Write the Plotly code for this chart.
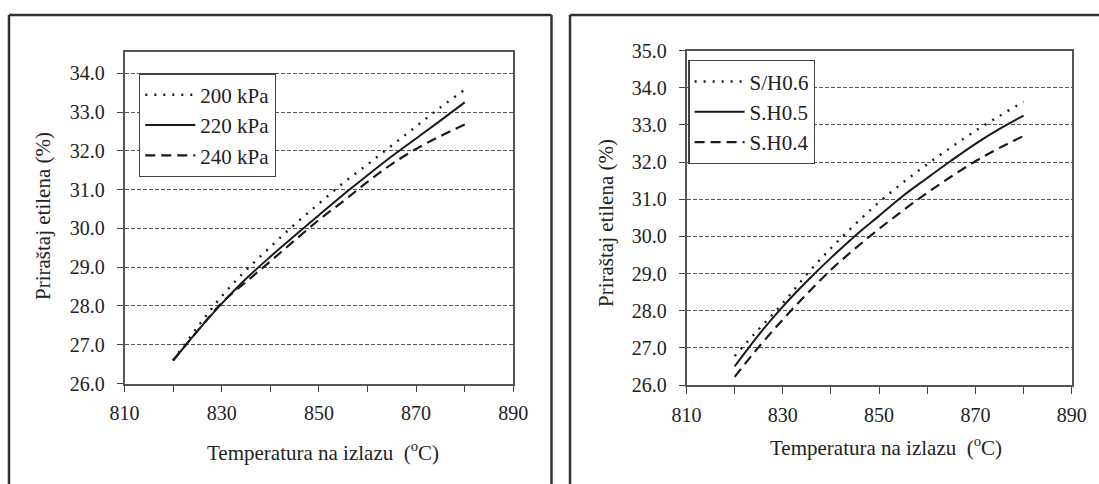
import plotly.graph_objects as go

# ---------------- data ----------------
temp = [820, 825, 830, 835, 840, 845, 850, 855, 860, 865, 870, 875, 880]

# left chart: pressure
kpa200 = [26.60, 27.45, 28.25, 28.92, 29.52, 30.10, 30.64, 31.17, 31.65, 32.14, 32.63, 33.12, 33.58]
kpa220 = [26.59, 27.35, 28.06, 28.70, 29.27, 29.81, 30.34, 30.87, 31.37, 31.86, 32.32, 32.78, 33.25]
kpa240 = [26.60, 27.35, 28.08, 28.62, 29.15, 29.69, 30.22, 30.70, 31.20, 31.66, 32.05, 32.38, 32.68]
left_names = ["200 kPa", "220 kPa", "240 kPa"]

# right chart: steam / hydrocarbon ratio
sh06 = [26.78, 27.50, 28.20, 28.98, 29.68, 30.32, 30.92, 31.45, 31.94, 32.40, 32.84, 33.24, 33.62]
sh05 = [26.50, 27.35, 28.11, 28.79, 29.42, 30.01, 30.55, 31.09, 31.57, 32.04, 32.49, 32.89, 33.25]
sh04 = [26.22, 27.02, 27.76, 28.45, 29.10, 29.67, 30.20, 30.70, 31.17, 31.61, 32.02, 32.38, 32.70]
right_names = ["S/H0.6", "S.H0.5", "S.H0.4"]

x_tick_vals = [810, 820, 830, 840, 850, 860, 870, 880, 890]
x_tick_text = ["810", "", "830", "", "850", "", "870", "", "890"]
y_left_ticks = [26, 27, 28, 29, 30, 31, 32, 33, 34]
y_right_ticks = [26, 27, 28, 29, 30, 31, 32, 33, 34, 35]

x_title = "Temperatura na izlazu\u00a0 (<sup>o</sup>C)"
y_title = "Priraštaj etilena (%)"

# ---------------- styling ----------------
W, H = 1099, 484
FONT = "Liberation Serif, Times New Roman, serif"
INK = "#1a1a1a"
styles = [
    dict(color=INK, width=2.4, dash="2px,7px"),
    dict(color=INK, width=2.0, dash="solid"),
    dict(color=INK, width=2.2, dash="10px,6px"),
]


def px(x):
    return x / W


def py(y):
    return 1 - y / H


fig = go.Figure()

for i, (name, ys) in enumerate(zip(left_names, [kpa200, kpa220, kpa240])):
    fig.add_trace(go.Scatter(
        x=temp, y=ys, name=name, mode="lines", line=dict(shape="spline", **styles[i]),
        xaxis="x", yaxis="y", legend="legend", legendgroup="L%d" % i))

for i, (name, ys) in enumerate(zip(right_names, [sh06, sh05, sh04])):
    fig.add_trace(go.Scatter(
        x=temp, y=ys, name=name, mode="lines", line=dict(shape="spline", **styles[i]),
        xaxis="x2", yaxis="y2", legend="legend2", legendgroup="R%d" % i))

common_x = dict(
    range=[810, 890], tickmode="array", tickvals=x_tick_vals, ticktext=x_tick_text,
    ticks="outside", ticklen=7, tickwidth=1.3, tickcolor="#444",
    showline=True, mirror=True, linecolor="#555", linewidth=1.5,
    showgrid=False, zeroline=False, fixedrange=True, automargin=False,
    ticklabelstandoff=4,
    tickfont=dict(family=FONT, size=20, color="#222"),
)
common_y = dict(
    tickmode="array", tickformat=".1f",
    ticks="outside", ticklen=6, tickwidth=1.3, tickcolor="#444",
    showline=True, mirror=True, linecolor="#555", linewidth=1.5,
    showgrid=True, gridcolor="#555", gridwidth=1.3, griddash="4px,2px",
    zeroline=False, fixedrange=True, ticklabelstandoff=8, automargin=False,
    tickfont=dict(family=FONT, size=20, color="#222"),
)

legend_style = dict(
    xanchor="left", yanchor="top", bgcolor="white", bordercolor="#444", borderwidth=1.3,
    font=dict(family=FONT, size=21, color="#222"),
    tracegroupgap=0, itemwidth=50, traceorder="grouped",
)

fig.update_layout(
    width=W, height=H, autosize=False,
    margin=dict(l=0, r=0, t=0, b=0, pad=0, autoexpand=False),
    paper_bgcolor="white", plot_bgcolor="white",
    font=dict(family=FONT, size=20, color="#222"),
    xaxis=dict(domain=[px(124.5), px(513.3)], anchor="y", **common_x),
    yaxis=dict(domain=[py(383.5), py(52)], anchor="x", range=[26, 34.55],
               tickvals=y_left_ticks, **common_y),
    xaxis2=dict(domain=[px(686.5), px(1071.7)], anchor="y2", **common_x),
    yaxis2=dict(domain=[py(385), py(50.5)], anchor="x2", range=[26, 35],
                tickvals=y_right_ticks, **common_y),
    legend=dict(x=px(139), y=py(73.3), **legend_style),
    legend2=dict(x=px(688.3), y=py(60), **legend_style),
)

# outer panel frames
frame = dict(type="line", xref="paper", yref="paper", line=dict(color="#333", width=2.5))
fig.add_shape(x0=px(9), x1=px(9), y0=py(15), y1=py(490), **frame)
fig.add_shape(x0=px(9), x1=px(551.5), y0=py(15), y1=py(15), **frame)
fig.add_shape(x0=px(551.5), x1=px(551.5), y0=py(15), y1=py(490), **frame)
fig.add_shape(x0=px(570), x1=px(570), y0=py(15), y1=py(490), **frame)
fig.add_shape(x0=px(570), x1=px(1105), y0=py(15), y1=py(15), **frame)

# axis titles
ann = dict(xref="paper", yref="paper", showarrow=False,
           font=dict(family=FONT, size=21, color="#222"),
           xanchor="center", yanchor="middle")
fig.add_annotation(x=px(323), y=py(451.7), text=x_title, **ann)
fig.add_annotation(x=px(886), y=py(446.7), text=x_title, **ann)
fig.add_annotation(x=px(43), y=py(216), text=y_title, textangle=-90, **ann)
fig.add_annotation(x=px(606), y=py(223), text=y_title, textangle=-90, **ann)

fig.write_html("out.html", config={"displayModeBar": False},
               post_script="document.body.style.margin='0';")
